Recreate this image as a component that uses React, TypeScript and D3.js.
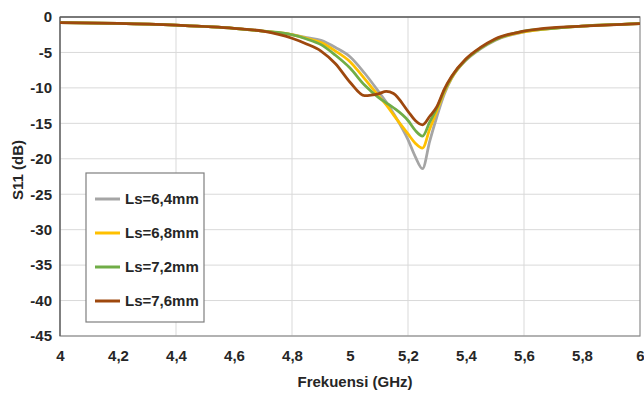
/**
 * S11 return-loss chart — four slot lengths (Ls) compared over 4–6 GHz.
 */

import { useEffect, useRef } from 'react';
import * as d3 from 'd3';

// ─── Data ───────────────────────────────────────────────────

const freqs = [
  4.0, 4.2, 4.4, 4.6, 4.7, 4.8, 4.85, 4.9, 4.95, 5.0, 5.05, 5.1, 5.125, 5.15,
  5.2, 5.225, 5.25, 5.275, 5.3, 5.325, 5.35, 5.4, 5.45, 5.5, 5.6, 5.7, 5.8, 6.0,
];

const ls64 = [
  -0.8, -0.9, -1.15, -1.6, -2.0, -2.5, -2.9, -3.3, -4.3, -5.6, -7.9, -10.6, -12.0, -13.6,
  -17.3, -19.7, -21.4, -17.5, -14.0, -10.9, -8.7, -6.1, -4.5, -3.3, -2.1, -1.6, -1.3, -0.95,
];

const ls68 = [
  -0.8, -0.9, -1.15, -1.6, -2.0, -2.5, -3.0, -3.6, -4.8, -6.3, -8.7, -11.2, -12.4, -13.8,
  -16.5, -17.8, -18.5, -15.8, -13.2, -10.6, -8.6, -6.0, -4.4, -3.2, -2.1, -1.6, -1.3, -0.95,
];

const ls72 = [
  -0.8, -0.9, -1.15, -1.6, -2.0, -2.5, -3.1, -3.9, -5.4, -7.2, -9.6, -11.4, -12.1, -12.8,
  -14.6, -16.0, -16.8, -14.8, -12.8, -10.4, -8.5, -6.0, -4.4, -3.2, -2.0, -1.6, -1.3, -0.95,
];

const ls76 = [
  -0.8, -0.9, -1.15, -1.6, -2.0, -3.0, -3.8, -4.8, -6.6, -9.2, -11.1, -10.8, -10.5, -10.8,
  -13.3, -14.6, -15.2, -14.0, -12.6, -10.2, -8.4, -5.9, -4.3, -3.1, -2.0, -1.5, -1.3, -0.95,
];

const seriesNames = ['Ls=6,4mm', 'Ls=6,8mm', 'Ls=7,2mm', 'Ls=7,6mm'];
const seriesValues = [ls64, ls68, ls72, ls76];
const seriesColors = ['#a5a5a5', '#ffc000', '#70ad47', '#9e480e'];

const xTicks = [4, 4.2, 4.4, 4.6, 4.8, 5, 5.2, 5.4, 5.6, 5.8, 6];
const xGrid = [4.4, 4.8, 5.2, 5.6];
const yTicks = [0, -5, -10, -15, -20, -25, -30, -35, -40, -45];

// ─── Component ──────────────────────────────────────────────

const W = 644;
const H = 394;
const FONT = '"Liberation Sans Narrow", "Arial Narrow", "Liberation Sans", sans-serif';

export default function App() {
  const svgRef = useRef<SVGSVGElement>(null);

  useEffect(() => {
    if (!svgRef.current) return;
    const svg = d3.select(svgRef.current);
    svg.selectAll('*').remove();

    const margin = { top: 17, right: 4, bottom: 58, left: 60 };
    const w = W - margin.left - margin.right;
    const h = H - margin.top - margin.bottom;

    svg.append('rect').attr('width', W).attr('height', H).attr('fill', '#fff');

    const g = svg.append('g').attr('transform', `translate(${margin.left},${margin.top})`);

    const x = d3.scaleLinear().domain([4, 6]).range([0, w]);
    const y = d3.scaleLinear().domain([-45, 0]).range([h, 0]);

    // Gridlines
    g.selectAll('.hgrid')
      .data(yTicks)
      .join('line')
      .attr('x1', 0).attr('x2', w)
      .attr('y1', (d) => y(d)).attr('y2', (d) => y(d))
      .attr('stroke', '#d9d9d9')
      .attr('stroke-width', 1);

    g.selectAll('.vgrid')
      .data(xGrid)
      .join('line')
      .attr('x1', (d) => x(d)).attr('x2', (d) => x(d))
      .attr('y1', 0).attr('y2', h)
      .attr('stroke', '#d9d9d9')
      .attr('stroke-width', 1);

    // Frame
    g.append('rect')
      .attr('width', w).attr('height', h)
      .attr('fill', 'none')
      .attr('stroke', '#8c8c8c')
      .attr('stroke-width', 1.2);
    g.append('line').attr('x1', 0).attr('x2', w).attr('y1', 0).attr('y2', 0)
      .attr('stroke', '#404040').attr('stroke-width', 1.2);
    g.append('line').attr('x1', 0).attr('x2', 0).attr('y1', 0).attr('y2', h)
      .attr('stroke', '#595959').attr('stroke-width', 1.2);

    // Axes
    const fmt = (d: d3.NumberValue) => String(+d).replace('.', ',');

    g.append('g')
      .attr('transform', `translate(0,${h})`)
      .call(d3.axisBottom(x).tickValues(xTicks).tickSize(0).tickPadding(14).tickFormat(fmt))
      .call((a) => a.select('.domain').remove())
      .selectAll('text')
      .style('font-family', FONT)
      .style('font-size', '15px')
      .style('font-weight', 'bold')
      .style('fill', '#262626');

    g.append('g')
      .call(d3.axisLeft(y).tickValues(yTicks).tickSize(0).tickPadding(8).tickFormat(fmt))
      .call((a) => a.select('.domain').remove())
      .selectAll('text')
      .style('font-family', FONT)
      .style('font-size', '15px')
      .style('font-weight', 'bold')
      .style('fill', '#262626');

    // Axis titles
    svg.append('text')
      .attr('x', margin.left + w / 2 + 5)
      .attr('y', 387)
      .attr('text-anchor', 'middle')
      .style('font-family', FONT)
      .style('font-size', '15px')
      .style('font-weight', 'bold')
      .style('fill', '#262626')
      .text('Frekuensi (GHz)');

    svg.append('text')
      .attr('transform', `translate(23,170) rotate(-90)`)
      .attr('text-anchor', 'middle')
      .style('font-family', FONT)
      .style('font-size', '15px')
      .style('font-weight', 'bold')
      .style('fill', '#262626')
      .text('S11 (dB)');

    // Curves
    const line = d3.line<number>()
      .x((_, i) => x(freqs[i]))
      .y((d) => y(d))
      .curve(d3.curveMonotoneX);

    seriesValues.forEach((vals, k) => {
      g.append('path')
        .datum(vals)
        .attr('fill', 'none')
        .attr('stroke', seriesColors[k])
        .attr('stroke-width', 2.75)
        .attr('stroke-linejoin', 'round')
        .attr('d', line);
    });

    // Legend
    const lg = svg.append('g').attr('transform', 'translate(86,173)');
    lg.append('rect')
      .attr('width', 118).attr('height', 149)
      .attr('fill', '#fff')
      .attr('stroke', '#7f7f7f')
      .attr('stroke-width', 1.2);

    seriesNames.forEach((name, k) => {
      const cy = 26 + k * 34;
      lg.append('line')
        .attr('x1', 9).attr('x2', 34)
        .attr('y1', cy).attr('y2', cy)
        .attr('stroke', seriesColors[k])
        .attr('stroke-width', 3);
      lg.append('text')
        .attr('x', 39)
        .attr('y', cy)
        .attr('dy', '0.35em')
        .style('font-family', FONT)
        .style('font-size', '15px')
        .style('font-weight', 'bold')
        .style('fill', '#262626')
        .text(name);
    });
  }, []);

  return (
    <svg
      ref={svgRef}
      width={W}
      height={H}
      style={{ position: 'absolute', left: 0, top: 0, display: 'block' }}
    />
  );
}
